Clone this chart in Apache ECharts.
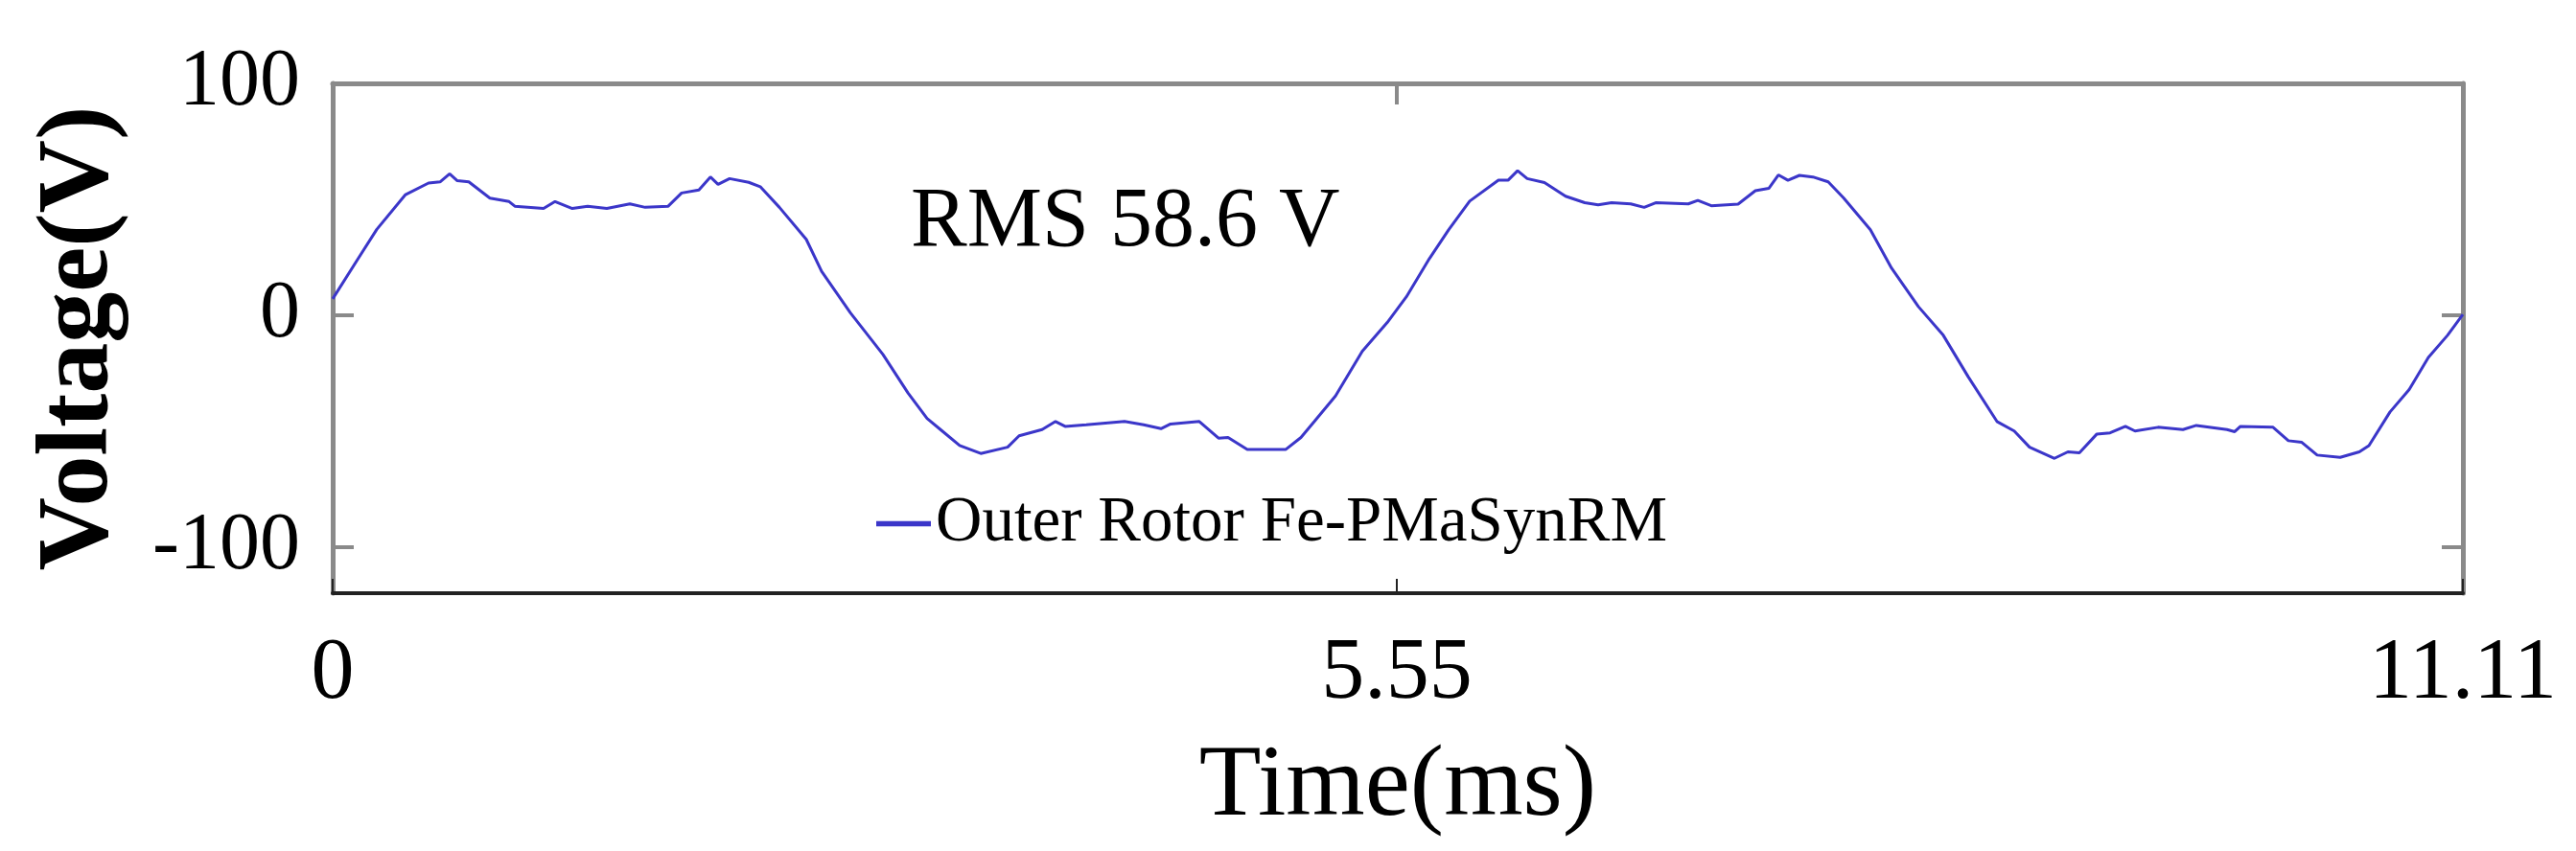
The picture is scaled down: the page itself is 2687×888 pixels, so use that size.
<!DOCTYPE html>
<html>
<head>
<meta charset="utf-8">
<script src="https://cdn.jsdelivr.net/npm/echarts@6/dist/echarts.min.js"></script>
<style>
html,body{margin:0;padding:0;background:#fff;}
#chart{width:2687px;height:888px;}
</style>
</head>
<body>
<div id="chart"></div>
<script>
// ---- data ----
const timeMs = [0.00,0.13,0.23,0.38,0.50,0.56,0.61,0.65,0.71,0.82,0.92,0.95,1.10,1.16,1.25,1.33,1.43,1.55,1.63,1.75,1.82,1.91,1.97,2.01,2.07,2.17,2.23,2.33,2.47,2.55,2.70,2.87,3.00,3.10,3.17,3.27,3.38,3.52,3.58,3.70,3.77,3.82,3.93,4.13,4.23,4.32,4.37,4.52,4.62,4.67,4.77,4.97,5.05,5.12,5.23,5.37,5.50,5.60,5.72,5.82,5.93,6.08,6.13,6.18,6.23,6.32,6.43,6.53,6.60,6.67,6.77,6.84,6.90,7.07,7.12,7.19,7.33,7.42,7.49,7.54,7.59,7.65,7.72,7.80,7.88,8.02,8.13,8.27,8.40,8.53,8.68,8.77,8.85,8.98,9.05,9.11,9.20,9.27,9.35,9.40,9.52,9.65,9.72,9.88,9.92,9.95,10.12,10.20,10.27,10.35,10.47,10.57,10.62,10.73,10.83,10.93,11.03,11.11];
const voltage = [7,24,37,52,57,57.5,61,58,57.5,50.5,49,47,46,49,46,47,46,48,46.5,47,52.7,54,59.6,56.4,58.9,57.3,55.4,46.5,32.7,18.9,1,-17,-33.5,-44.6,-49.4,-56.3,-59.7,-57,-52.1,-49.4,-45.9,-48,-47.3,-45.9,-47.3,-49,-47,-45.9,-53.1,-52.8,-58,-58,-52.8,-45.9,-34.9,-15.6,-3.2,7.9,24.4,36.8,49.2,58.2,58.2,62.3,58.9,57.2,51.3,48.5,47.6,48.5,48,46.5,48.5,48,49.5,47.2,47.9,53.7,54.7,60.5,58.2,60.3,59.6,57.5,50.6,36.8,20.3,3.7,-8.7,-26.6,-45.9,-50,-57,-61.8,-59,-59.4,-51.4,-50.8,-48,-50,-48.4,-49.4,-47.6,-49.4,-50.3,-48,-48.4,-54.2,-54.9,-60.4,-61.4,-59,-56.3,-41.8,-32.1,-18.3,-8.7,0.3];
const xTickValues = [0, 5.55, 11.11];
const xTickLabels = ['0', '5.55', '11.11'];
const yTickValues = [-100, 0, 100];
const yTickLabels = ['-100', '0', '100'];
const seriesName = 'Outer Rotor Fe-PMaSynRM';
const annotation = 'RMS 58.6 V';
const xName = 'Time(ms)';
const yName = 'Voltage(V)';

const FONT = "'Liberation Serif','Times New Roman',serif";
const GRAY = '#8a8a8a';
const DARK = '#222222';
const xLabelFmt = v => { const i = xTickValues.findIndex(t => Math.abs(t - v) < 1e-6); return i >= 0 ? xTickLabels[i] : ''; };
const yLabelFmt = v => { const i = yTickValues.findIndex(t => Math.abs(t - v) < 1e-6); return i >= 0 ? yTickLabels[i] : ''; };

const chart = echarts.init(document.getElementById('chart'), null, {renderer: 'canvas'});
chart.setOption({
  animation: false,
  backgroundColor: '#ffffff',
  grid: {left: 347, right: 118, top: 87, bottom: 269},
  legend: {
    data: [seriesName],
    left: 909, top: 508,
    itemWidth: 57, itemHeight: 14, itemGap: 0,
    icon: 'path://M0,0 L10,0 L10,1 L0,1 Z',
    textStyle: {fontFamily: FONT, fontSize: 67, color: '#000', padding: [0,0,0,0]},
    itemStyle: {color: '#3b36c9'}
  },
  graphic: [{
    type: 'text', x: 950, y: 233,
    style: {text: annotation, fontFamily: FONT, fontSize: 88, fill: '#000', verticalAlign: 'middle', align: 'left'}
  }],
  xAxis: [{
    type: 'value', min: 0, max: 11.11, position: 'bottom',
    name: xName, nameLocation: 'middle', nameGap: 150,
    nameTextStyle: {fontFamily: FONT, fontSize: 106, color: '#000'},
    axisLine: {show: true, onZero: false, lineStyle: {color: DARK, width: 4}},
    axisTick: {show: true, inside: true, length: 15, customValues: xTickValues, lineStyle: {color: DARK, width: 2}},
    axisLabel: {show: true, margin: 40, customValues: xTickValues, formatter: xLabelFmt, fontFamily: FONT, fontSize: 90, color: '#000', showMinLabel: true, showMaxLabel: true},
    splitLine: {show: false}
  }, {
    type: 'value', min: 0, max: 11.11, position: 'top',
    axisLine: {show: true, onZero: false, lineStyle: {color: GRAY, width: 5}},
    axisTick: {show: true, inside: true, length: 22, customValues: xTickValues, lineStyle: {color: GRAY, width: 4}},
    axisLabel: {show: false},
    splitLine: {show: false}
  }],
  yAxis: [{
    type: 'value', min: -120, max: 100, position: 'left',
    name: yName, nameLocation: 'middle', nameGap: 210,
    nameTextStyle: {fontFamily: FONT, fontSize: 106, fontWeight: 'bold', color: '#000'},
    axisLine: {show: true, onZero: false, lineStyle: {color: GRAY, width: 5}},
    axisTick: {show: true, inside: true, length: 22, customValues: yTickValues, lineStyle: {color: GRAY, width: 4}},
    axisLabel: {show: true, margin: 34, customValues: yTickValues, formatter: yLabelFmt, fontFamily: FONT, fontSize: 84, color: '#000', showMinLabel: true, showMaxLabel: true},
    splitLine: {show: false}
  }, {
    type: 'value', min: -120, max: 100, position: 'right',
    axisLine: {show: true, onZero: false, lineStyle: {color: GRAY, width: 5}},
    axisTick: {show: true, inside: true, length: 22, customValues: yTickValues, lineStyle: {color: GRAY, width: 4}},
    axisLabel: {show: false},
    splitLine: {show: false}
  }],
  series: [{
    name: seriesName,
    type: 'line',
    xAxisIndex: 0, yAxisIndex: 0,
    data: timeMs.map((t, i) => [t, voltage[i]]),
    showSymbol: false, symbol: 'none',
    lineStyle: {color: '#3b36c9', width: 3},
    itemStyle: {color: '#3b36c9'},
    smooth: false,
    clip: false
  }]
});
</script>
</body>
</html>
